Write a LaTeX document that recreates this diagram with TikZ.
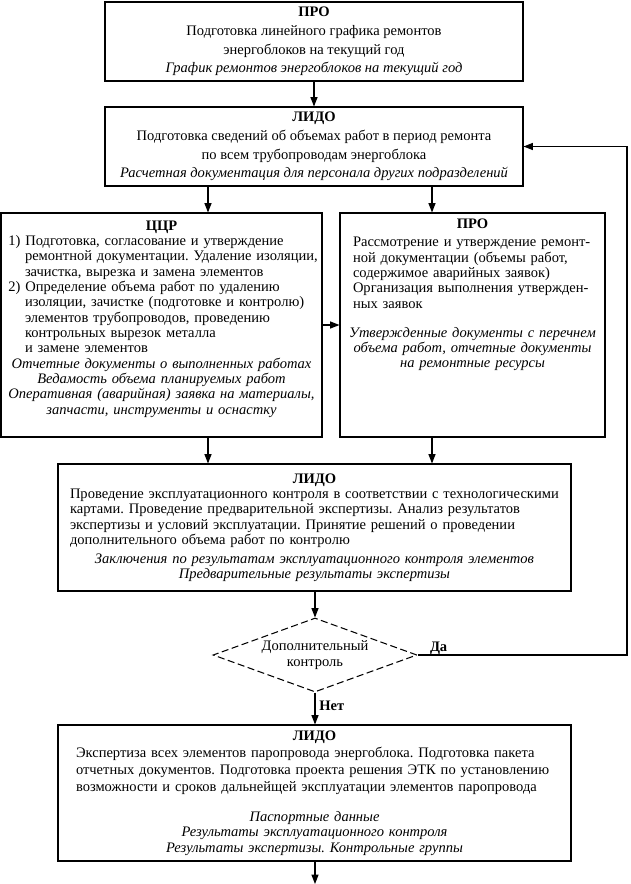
\documentclass[tikz,border=0pt]{standalone}
\usepackage{fontspec}
\setmainfont{Liberation Serif}
\usetikzlibrary{
  arrows.meta,
  positioning,
  shapes.geometric
}

\begin{document}
\frenchspacing
\begin{tikzpicture}[
  font=\fontsize{12.4}{13.1}\selectfont,
  box/.style={
    rectangle, draw=black, line width=0.9pt, fill=white,
    inner xsep=0.2cm, inner ysep=0.1cm
  },
  decision/.style={
    diamond, draw=black, line width=0.9pt, dash pattern=on 6pt off 3pt,
    aspect=2.76, inner sep=0pt, align=center,
    minimum width=6.12cm, minimum height=2.22cm
  },
  lbl/.style={font=\fontsize{12.4}{13.1}\selectfont\bfseries},
  arrow/.style={-{Triangle[length=2.8mm, width=2.1mm]}, line width=0.9pt},
]
\useasboundingbox (0,0) rectangle (18.9,-26.52);

% Columns of the side arrows
\coordinate (colL) at (6.24,0);
\coordinate (colR) at (12.96,0);

% Yearly schedule
\node[box, minimum width=12.54cm, minimum height=2.37cm, align=center,
  font=\fontsize{12.4}{16}\selectfont] (pro1) at (9.42,-1.245)
  {{\bfseries ПРО}\\
   Подготовка линейного графика ремонтов\\
   энергоблоков на текущий год\\
   {\itshape График ремонтов энергоблоков на текущий год}};

% Volume of works
\node[box, minimum width=12.54cm, minimum height=2.37cm, align=center,
  font=\fontsize{12.4}{16}\selectfont] (lido1) at (9.42,-4.395)
  {{\bfseries ЛИДО}\\
   Подготовка сведений об объемах работ в период ремонта\\
   по всем трубопроводам энергоблока\\
   {\itshape Расчетная документация для персонала других подразделений}};

% Repair shop
\node[box, minimum width=9.63cm, minimum height=6.72cm, text width=9.43cm,
  inner xsep=0.1cm] (ccr) at (4.845,-9.75)
  {{\centering\bfseries ЦЦР\par}
   {\leftskip=0.12cm
   1) Подготовка, согласование и утверждение\\
   \hspace*{0.5cm}\mbox{ремонтной документации. Удаление изоляции,}\\
   \hspace*{0.5cm}зачистка, вырезка и замена элементов\\
   2) Определение объема работ по удалению\\
   \hspace*{0.5cm}\mbox{изоляции, зачистке (подготовке и контролю)}\\
   \hspace*{0.5cm}элементов трубопроводов, проведению\\
   \hspace*{0.5cm}контрольных вырезок металла\\
   \hspace*{0.5cm}и замене элементов\par}
   {\centering\itshape Отчетные документы о выполненных работах\\
   Ведамость объема планируемых работ\\
   Оперативная (аварийная) заявка на материалы,\\
   запчасти, инструменты и оснастку\par}
   \null};

% Approval
\node[box, minimum width=7.95cm, minimum height=6.72cm, text width=7.55cm]
  (pro2) at (14.175,-9.75)
  {\vspace*{0.1cm}{\centering\bfseries ПРО\par}
   {\leftskip=0.19cm
   Рассмотрение и утверждение ремонт-\\
   ной документации (объемы работ,\\
   содержимое аварийных заявок)\\
   Организация выполнения утвержден-\\
   ных заявок\par}\vspace{0.4cm}
   {\centering\itshape Утвержденные документы с перечнем\\
   объема работ, отчетные документы\\
   на ремонтные ресурсы\par}
   \vspace{1.45cm}\null};

% Operational control
\node[box, minimum width=15.39cm, minimum height=3.81cm, text width=14.99cm]
  (lido2) at (9.435,-15.825)
  {{\centering\bfseries ЛИДО\par}
   {\leftskip=0.16cm
   Проведение эксплуатационного контроля в соответствии с технологическими\\
   картами. Проведение предварительной экспертизы. Анализ результатов\\
   экспертизы и условий эксплуатации. Принятие решений о проведении\\
   дополнительного объема работ по контролю\par}\vspace{0.1cm}
   {\centering\itshape Заключения по результатам эксплуатационного контроля элементов\\
   Предварительные результаты экспертизы\par}};

% Decision
\node[decision] (dop) at (9.45,-19.65) {Дополнительный\\контроль};

% Final expertise
\node[box, minimum width=15.39cm, minimum height=4.08cm, text width=14.99cm]
  (lido3) at (9.435,-23.79)
  {{\centering\bfseries ЛИДО\par}
   {\leftskip=0.34cm\baselineskip=14.4pt
   Экспертиза всех элементов паропровода энергоблока. Подготовка пакета\\
   отчетных документов. Подготовка проекта решения ЭТК по установлению\\
   возможности и сроков дальнейщей эксплуатации элементов паропровода\par}
   \vspace{0.45cm}
   {\centering\itshape Паспортные данные\\
   Результаты эксплуатационного контроля\\
   Результаты экспертизы. Контрольные группы\par}};

\coordinate (back) at (18.81,-19.65);
\coordinate (exit) at (9.45,-26.52);

% Flows
\draw[arrow] (pro1.south) -- (lido1.north);
\draw[arrow] (colL |- lido1.south) -- (colL |- ccr.north);
\draw[arrow] (colR |- lido1.south) -- (colR |- pro2.north);
\draw[arrow] (ccr.east) -- (pro2.west);
\draw[arrow] (colL |- ccr.south) -- (colL |- lido2.north);
\draw[arrow] (colR |- pro2.south) -- (colR |- lido2.north);
\draw[arrow] (lido2.south -| dop.north) -- (dop.north);
\draw[arrow] (dop.south) -- (dop.south |- lido3.north)
  node[lbl, right, pos=0.4] (net) {Нет};
\draw[arrow] (dop.east) -- (back) |- (lido1.east);
\node[lbl, anchor=south west] (da) at ([xshift=0.25cm, yshift=-0.12cm]dop.east) {Да};
\draw[arrow] (lido3.south -| exit) -- (exit);

\end{tikzpicture}
\end{document}
